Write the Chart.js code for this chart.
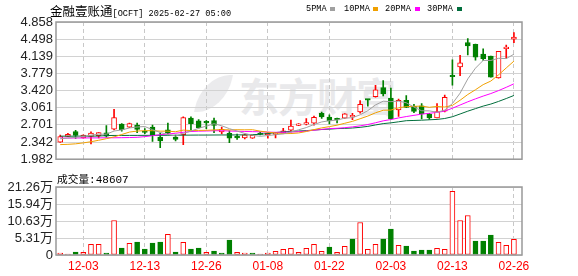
<!DOCTYPE html>
<html>
<head>
<meta charset="utf-8">
<script src="https://cdn.jsdelivr.net/npm/chart.js@4.4.1/dist/chart.umd.min.js"></script>
<style>
body{margin:0;background:#fff;}
#wrap{position:relative;width:578px;height:276px;overflow:hidden;}
canvas{position:absolute;left:0;}
.t{position:absolute;white-space:nowrap;color:#000;}
.lg{position:absolute;top:2px;font:8.6px 'Liberation Mono';line-height:14px;color:#000;white-space:nowrap;}
.sq{position:absolute;top:7px;width:5px;height:4px;}
</style>
</head>
<body>
<div id="wrap">
  <div class="t" style="left:198px;top:75px;width:31px;height:37px;background:#ebebed;border-radius:90% 0 90% 0;transform:skewX(-12deg);"></div>
  <div class="t" style="left:239px;top:66px;font:bold 40px 'Noto Sans CJK SC';color:#e9e9eb;letter-spacing:-1px;">东方财富</div>
  <canvas id="kline" width="578" height="170" style="top:0"></canvas>
  <canvas id="vol" width="578" height="106" style="top:170px"></canvas>
  <div class="t" style="left:50px;top:1px;line-height:14px;"><span style="font:12.5px 'Noto Sans CJK SC'">金融壹账通</span><span style="font:8.6px 'Liberation Mono'">[OCFT] 2025-02-27 05:00</span></div>
  <div class="lg" style="left:306px">5PMA</div><div class="sq" style="left:330px;background:#a0a0a0"></div>
  <div class="lg" style="left:344px">10PMA</div><div class="sq" style="left:373px;background:#f0a000"></div>
  <div class="lg" style="left:385px">20PMA</div><div class="sq" style="left:415px;background:#ff00ff"></div>
  <div class="lg" style="left:427px">30PMA</div><div class="sq" style="left:457px;background:#006e3c"></div>
  <div class="t" style="left:57px;top:170px;line-height:15px;"><span style="font:10.7px 'Noto Sans CJK SC'">成交量</span><span style="font:11px 'Liberation Mono'">:48607</span></div>
</div>
<script>
const dates = ['11-27','11-29','12-02','12-03','12-04','12-05','12-06','12-09','12-10','12-11',
  '12-12','12-13','12-16','12-17','12-18','12-19','12-20','12-23','12-24','12-26',
  '12-27','12-30','12-31','01-02','01-03','01-06','01-07','01-08','01-10','01-13',
  '01-14','01-15','01-16','01-17','01-21','01-22','01-23','01-24','01-27','01-28',
  '01-29','01-30','01-31','02-03','02-04','02-05','02-06','02-07','02-10','02-11',
  '02-12','02-13','02-14','02-18','02-19','02-20','02-21','02-24','02-25','02-26'];
const tickDates = ['12-03','12-13','12-26','01-08','01-22','02-03','02-13','02-26'];

const opens = [2.340,2.461,2.562,2.429,2.461,2.475,2.536,2.610,2.717,2.651,
  2.697,2.570,2.657,2.445,2.596,2.445,2.496,2.844,2.784,2.757,
  2.792,2.556,2.522,2.438,2.429,2.421,2.520,2.495,2.500,2.536,
  2.590,2.691,2.718,2.737,2.945,2.864,2.815,2.844,2.870,2.973,
  3.231,3.295,3.483,3.261,3.013,3.215,3.090,3.100,2.929,2.848,
  2.989,3.724,3.919,4.429,4.389,4.187,4.141,3.684,4.300,4.496];
const highs = [2.486,2.522,2.586,2.495,2.556,2.542,2.687,3.025,2.731,2.740,
  2.737,2.622,2.697,2.530,2.737,2.486,2.868,2.868,2.812,2.792,
  2.844,2.657,2.576,2.510,2.506,2.490,2.545,2.542,2.542,2.631,
  2.804,2.730,2.832,2.888,2.969,2.913,2.844,2.940,2.945,3.211,
  3.235,3.529,3.630,3.472,3.241,3.315,3.130,3.146,2.945,3.146,
  3.327,4.067,4.161,4.510,4.395,4.298,4.145,4.245,4.373,4.636];
const lows = [2.335,2.455,2.415,2.425,2.304,2.429,2.445,2.596,2.570,2.645,
  2.536,2.516,2.355,2.224,2.506,2.365,2.288,2.596,2.631,2.622,
  2.536,2.510,2.328,2.395,2.409,2.415,2.490,2.421,2.429,2.530,
  2.556,2.685,2.703,2.697,2.838,2.723,2.743,2.835,2.812,2.949,
  3.094,3.281,3.307,2.818,2.878,3.060,2.959,2.828,2.818,2.845,
  2.973,3.533,3.734,4.167,4.060,4.052,3.700,3.680,4.097,4.423];
const closes = [2.455,2.502,2.482,2.490,2.530,2.540,2.465,2.852,2.602,2.731,
  2.606,2.542,2.475,2.365,2.526,2.395,2.852,2.727,2.643,2.743,
  2.691,2.610,2.421,2.428,2.495,2.482,2.500,2.505,2.512,2.576,
  2.677,2.723,2.728,2.858,2.866,2.784,2.807,2.933,2.880,3.130,
  3.221,3.436,3.348,2.824,3.215,3.070,2.985,2.933,2.848,2.979,
  3.281,3.710,4.002,4.354,4.121,4.087,3.704,4.242,4.318,4.544];
// volume in 万
const volumes = [0.62,0.31,0.93,0.83,3.32,3.32,0.62,10.78,2.18,3.63,
  4.04,1.87,3.73,4.04,6.43,0.93,3.94,1.87,2.18,0.83,
  1.24,0.62,4.67,0.83,0.62,0.62,0.31,0.62,1.14,1.76,
  2.07,0.83,2.07,3.32,1.14,2.49,0.83,2.70,4.98,10.16,
  1.76,3.32,4.98,8.09,3.01,2.80,1.24,1.56,1.56,2.07,
  1.76,19.90,10.78,12.34,4.36,4.36,6.22,3.94,3.01,4.8607];

const ma5 = [2.409,2.425,2.441,2.459,2.486,2.506,2.506,2.572,2.596,2.637,
  2.657,2.667,2.600,2.542,2.500,2.468,2.522,2.572,2.630,2.675,
  2.726,2.683,2.622,2.572,2.522,2.482,2.462,2.478,2.495,2.512,
  2.552,2.598,2.645,2.710,2.763,2.788,2.803,2.843,2.852,2.912,
  3.000,3.120,3.198,3.188,3.200,3.165,3.075,2.997,2.995,2.966,
  3.012,3.148,3.367,3.665,3.890,4.052,4.052,4.097,4.091,4.182];
const ma10 = [2.288,2.294,2.304,2.324,2.348,2.379,2.412,2.450,2.500,2.550,
  2.572,2.580,2.580,2.570,2.570,2.558,2.592,2.582,2.586,2.588,
  2.596,2.603,2.597,2.600,2.598,2.600,2.570,2.548,2.533,2.518,
  2.520,2.532,2.562,2.602,2.638,2.665,2.695,2.735,2.775,2.830,
  2.886,2.955,3.008,3.012,3.060,3.084,3.090,3.095,3.070,3.088,
  3.075,3.110,3.218,3.338,3.438,3.545,3.620,3.750,3.895,4.038];
const ma20 = [2.425,2.425,2.427,2.427,2.429,2.429,2.431,2.431,2.433,2.436,
  2.441,2.455,2.475,2.496,2.510,2.526,2.546,2.562,2.570,2.573,
  2.579,2.580,2.573,2.568,2.563,2.560,2.557,2.549,2.546,2.546,
  2.550,2.558,2.571,2.590,2.606,2.623,2.630,2.642,2.659,2.681,
  2.709,2.746,2.786,2.813,2.847,2.876,2.901,2.927,2.944,2.964,
  2.989,3.051,3.118,3.185,3.247,3.305,3.358,3.420,3.489,3.562];
const ma30 = [2.465,2.465,2.465,2.466,2.466,2.467,2.478,2.480,2.480,2.481,
  2.481,2.482,2.482,2.483,2.483,2.484,2.486,2.487,2.488,2.488,
  2.489,2.490,2.490,2.491,2.492,2.495,2.505,2.520,2.540,2.556,
  2.565,2.573,2.581,2.593,2.604,2.612,2.623,2.628,2.636,2.650,
  2.670,2.700,2.728,2.744,2.766,2.789,2.794,2.800,2.808,2.816,
  2.835,2.872,2.930,2.989,3.042,3.095,3.138,3.193,3.254,3.318];

const priceTicks = [1.982,2.342,2.701,3.061,3.420,3.779,4.139,4.498,4.858];
const volTicks = [0,5.31,10.63,15.94,21.26];

const RED = '#ff0000', GREEN = '#008000';
const idx = dates.map((d, i) => i);
const up = idx.map(i => closes[i] >= opens[i]);
const volUp = idx.map(i => i ? closes[i] >= closes[i - 1] : closes[i] >= opens[i]);
const tickIdx = tickDates.map(d => dates.indexOf(d));
const pts = arr => arr.map((v, i) => ({x: i, y: v}));

function xAxis(labels) {
  return {
    type: 'linear', min: -0.55, max: 60.05, offset: false, bounds: 'data',
    afterBuildTicks: s => { s.ticks = tickIdx.map(v => ({value: v})); },
    afterFit: s => { s.height = labels ? 21 : 0; },
    grid: {offset: false, color: '#c8c8c8', drawTicks: false},
    border: {display: false, dash: [4, 3]},
    ticks: {display: labels, color: RED, font: {size: 12, family: 'Liberation Sans'}, padding: 4,
      maxRotation: 0, autoSkip: false, callback: v => dates[v]}
  };
}
function yAxis(min, max, ticks, fmt) {
  return {
    min: min, max: max, bounds: 'data',
    afterBuildTicks: s => { s.ticks = ticks.map(v => ({value: v})); },
    afterFit: s => { s.width = 56; },
    grid: {color: '#d2d2d2', drawTicks: false},
    border: {display: false},
    ticks: {color: '#222', font: {size: 13, family: "'Liberation Sans','Noto Sans CJK SC'"}, padding: 3,
      autoSkip: false, callback: fmt}
  };
}
const frame = {
  id: 'frame',
  afterDraw(c) {
    const a = c.chartArea, ctx = c.ctx;
    ctx.save();
    ctx.strokeStyle = '#999';
    ctx.lineWidth = 1.5;
    ctx.strokeRect(a.left, a.top, a.right - a.left, a.bottom - a.top);
    ctx.restore();
  }
};
const common = {
  responsive: false, animation: false, devicePixelRatio: 1,
  plugins: {legend: {display: false}, tooltip: {enabled: false}}
};
const line = (data, color) => ({type: 'line', data: pts(data), borderColor: color, borderWidth: 1,
  pointRadius: 0, fill: false, tension: 0, order: 1});

new Chart(document.getElementById('kline'), {
  type: 'bar',
  data: {datasets: [
    {data: idx.map(i => ({x: i, y: [lows[i], highs[i]]})),
      backgroundColor: idx.map(i => up[i] ? RED : GREEN), barThickness: 1, grouped: false, order: 3},
    {data: idx.map(i => ({x: i, y: [Math.min(opens[i], closes[i]), Math.max(opens[i], closes[i])]})),
      backgroundColor: idx.map(i => up[i] ? '#fff' : GREEN), borderColor: idx.map(i => up[i] ? RED : GREEN),
      borderWidth: 1, borderSkipped: false, barThickness: 5, minBarLength: 1.5, grouped: false, order: 2},
    line(ma5, '#a0a0a0'), line(ma10, '#f0a000'), line(ma20, '#ff00ff'), line(ma30, '#006e3c')
  ]},
  options: Object.assign({}, common, {
    layout: {padding: {left: 0, right: 56, top: 22, bottom: 5}},
    scales: {x: xAxis(false), y: yAxis(1.982, 4.858, priceTicks, v => v.toFixed(3))}
  }),
  plugins: [frame]
});

new Chart(document.getElementById('vol'), {
  type: 'bar',
  data: {datasets: [
    {data: idx.map(i => ({x: i, y: volumes[i]})),
      backgroundColor: idx.map(i => volUp[i] ? '#fff' : GREEN), borderColor: idx.map(i => volUp[i] ? RED : GREEN),
      borderWidth: 1, borderSkipped: false, barThickness: 5, grouped: false}
  ]},
  options: Object.assign({}, common, {
    layout: {padding: {left: 0, right: 56, top: 17, bottom: 0}},
    scales: {x: xAxis(true), y: yAxis(0, 21.26, volTicks, v => v === 0 ? '0' : v.toFixed(2) + '万')}
  }),
  plugins: [frame]
});
</script>
</body>
</html>
